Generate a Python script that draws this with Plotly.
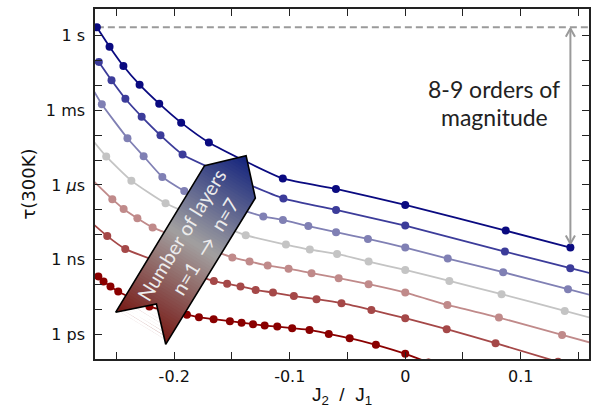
import numpy as np
import plotly.graph_objects as go

# ---------------- data (x = J2/J1, values = log10(tau / s)) ----------------
x_n7 = [-0.267, -0.256, -0.244, -0.230, -0.213, -0.194, -0.170, -0.106, -0.060, 0.000, 0.087, 0.143]
lt_n7 = [0.338, -0.442, -1.218, -1.969, -2.733, -3.497, -4.293, -5.740, -6.162, -6.804, -7.838, -8.521]

x_n6 = [-0.2653, -0.2543, -0.2423, -0.2282, -0.2119, -0.1928, -0.1055, -0.0599, 0.0, 0.0863, 0.1429, 0.1668]
lt_n6 = [-1.057, -1.793, -2.536, -3.256, -4.007, -4.775, -6.543, -7.006, -7.637, -8.682, -9.349, -9.630]

x_n5 = [-0.2733, -0.2627, -0.2405, -0.2265, -0.2103, -0.1913, -0.1229, -0.1059, -0.0839, -0.0599, -0.0323,
        0.0, 0.0368, 0.0848, 0.1409, 0.1668]
lt_n5 = [-1.933, -2.757, -4.124, -4.847, -5.679, -6.242, -7.267, -7.408, -7.657, -7.902, -8.171,
         -8.521, -8.963, -9.510, -10.193, -10.506]

x_n4 = [-0.2733, -0.2589, -0.2371, -0.2075, -0.1381, -0.1033, -0.0826, -0.0590, -0.0317, 0.0, 0.0382,
        0.0834, 0.1381, 0.1668]
lt_n4 = [-4.051, -4.855, -5.828, -6.736, -8.023, -8.400, -8.601, -8.774, -9.084, -9.417, -9.859,
         -10.394, -11.065, -11.419]

x_n3 = [-0.2733, -0.2536, -0.2438, -0.2319, -0.2187, -0.1497, -0.1348, -0.1191, -0.1010, -0.0811, -0.0576,
        -0.0317, 0.0, 0.0365, 0.0811, 0.1358, 0.1668]
lt_n3 = [-5.687, -6.572, -6.965, -7.339, -7.709, -8.915, -9.076, -9.244, -9.369, -9.550, -9.751,
         -9.992, -10.330, -10.824, -11.334, -12.030, -12.424]

x_n2 = [-0.2733, -0.2580, -0.2424, -0.1657, -0.1542, -0.1426, -0.1295, -0.1145, -0.0964, -0.0768, -0.0552,
        -0.0293, 0.0, 0.0359, 0.0782, 0.1323]
lt_n2 = [-7.448, -8.059, -8.573, -9.867, -9.972, -10.080, -10.221, -10.330, -10.470, -10.595, -10.756,
         -11.025, -11.358, -11.801, -12.363, -13.115]

x_n1 = [-0.2657, -0.2612, -0.2552, -0.2485, -0.2215, -0.1890, -0.1786, -0.1659, -0.1518, -0.1417, -0.1318,
        -0.1217, -0.1108, -0.0979, -0.0829, -0.0662, -0.0481, -0.0254, 0.0, 0.0201]
lt_n1 = [-9.678, -9.879, -10.080, -10.289, -10.892, -11.218, -11.318, -11.399, -11.479, -11.539, -11.600,
         -11.656, -11.696, -11.760, -11.829, -11.990, -12.162, -12.432, -12.793, -13.139]

series_names = ["n=1", "n=2", "n=3", "n=4", "n=5", "n=6", "n=7"]
series_x = [x_n1, x_n2, x_n3, x_n4, x_n5, x_n6, x_n7]
series_lt = [lt_n1, lt_n2, lt_n3, lt_n4, lt_n5, lt_n6, lt_n7]
series_colors = ["#8a0000", "#a54848", "#c08a8a", "#c4c4c4", "#8080b4", "#3c3c9a", "#0a0a80"]

x_tickvals = [-0.2, -0.1, 0.0, 0.1]
x_ticktext = ["-0.2", "-0.1", "0", "0.1"]
x_minorvals = [-0.25, -0.15, -0.05, 0.05, 0.15]
y_label_exp = [0, -3, -6, -9, -12]
y_ticktext = ["1 s", "1 ms", "1 <i>\u03bc</i>s", "1 ns", "1 ps"]
y_minor_exp = [-1, -2, -4, -5, -7, -8, -10, -11]

# ---------------- layout geometry ----------------
W, H = 591, 411
ML, MR, MT, MB = 95, 0, 9, 52
XR = [-0.2686, 0.1591]
YR = [-13.0, 1.073]
PW, PH = W - ML - MR, H - MT - MB
DX_PX = (XR[1] - XR[0]) / PW   # data units per pixel (x)
DY_PX = (YR[1] - YR[0]) / PH   # decades per pixel (y)


def px2x(px):
    return XR[0] + (px - ML) * DX_PX


def py2lt(py):
    return YR[1] - (py - MT) * DY_PX


fig = go.Figure()

# dashed reference line at the n=7 starting value
fig.add_trace(go.Scatter(x=[x_n7[0], XR[1] + 0.02], y=[10 ** lt_n7[0]] * 2, mode="lines",
                         line=dict(color="#9a9a9a", width=2, dash="7px,4px"),
                         hoverinfo="skip", showlegend=False))

for name, xs, lts, col in zip(series_names, series_x, series_lt, series_colors):
    fig.add_trace(go.Scatter(
        x=xs, y=[10 ** v for v in lts], mode="lines+markers", name=name,
        line=dict(color=col, width=1.8, shape="spline", smoothing=0.5),
        marker=dict(color=col, size=8, line=dict(width=0)),
        showlegend=False))

# ---------------- double-headed gray arrow (span of n=7) ----------------
xa = x_n7[-1]
top_tip = lt_n7[0] - 1.2 * DY_PX
bot_tip = lt_n7[-1] + 3.8 * DY_PX
hx, hy = 4.6 * DX_PX, 8.3 * DY_PX
ax_x = [xa, xa, None, xa - hx, xa, xa + hx, None, xa - hx, xa, xa + hx]
ax_y = [top_tip, bot_tip, None, top_tip - hy, top_tip, top_tip - hy, None, bot_tip + hy, bot_tip, bot_tip + hy]
fig.add_trace(go.Scatter(x=ax_x, y=[None if v is None else 10 ** v for v in ax_y], mode="lines",
                         line=dict(color="#9a9a9a", width=2), hoverinfo="skip", showlegend=False))

# ---------------- ribbon arrow with diagonal gradient ----------------
rib = [(115.7, 312.3), (205.0, 165.7), (246.7, 155.7), (256.0, 198.0), (166.0, 344.3), (156.7, 304.0)]
u = np.array([0.522, -0.853])
u = u / np.linalg.norm(u)


def clip(poly, s, keep_ge):
    out = []
    n = len(poly)
    for i in range(n):
        P = poly[i]
        Q = poly[(i + 1) % n]
        dp = P[0] * u[0] + P[1] * u[1] - s
        dq = Q[0] * u[0] + Q[1] * u[1] - s
        if not keep_ge:
            dp, dq = -dp, -dq
        if dp >= 0:
            out.append(P)
        if (dp >= 0) != (dq >= 0):
            t = dp / (dp - dq)
            out.append((P[0] + t * (Q[0] - P[0]), P[1] + t * (Q[1] - P[1])))
    return out


stops = [(0.0, (118, 22, 18)), (0.5, (162, 160, 160)), (1.0, (18, 34, 124))]


def grad(t):
    for (t0, c0), (t1, c1) in zip(stops[:-1], stops[1:]):
        if t <= t1:
            f = (t - t0) / (t1 - t0)
            return "rgb(%d,%d,%d)" % tuple(round(a + f * (b - a)) for a, b in zip(c0, c1))
    return "rgb(%d,%d,%d)" % stops[-1][1]


proj = [p[0] * u[0] + p[1] * u[1] for p in rib]
smin, smax = min(proj), max(proj)
N = 70
ds = (smax - smin) / N
for k in range(N):
    s0 = smin + k * ds
    s1 = s0 + ds + 0.9
    poly = clip(clip(rib, s0, True), s1, False)
    if len(poly) < 3:
        continue
    col = grad((k + 0.5) / N)
    fig.add_trace(go.Scatter(
        x=[px2x(p[0]) for p in poly] + [px2x(poly[0][0])],
        y=[10 ** py2lt(p[1]) for p in poly] + [10 ** py2lt(poly[0][1])],
        mode="lines", fill="toself", fillcolor=col, line=dict(width=0, color=col),
        hoverinfo="skip", showlegend=False))

fig.add_trace(go.Scatter(
    x=[px2x(p[0]) for p in rib] + [px2x(rib[0][0])],
    y=[10 ** py2lt(p[1]) for p in rib] + [10 ** py2lt(rib[0][1])],
    mode="lines", line=dict(color="#000000", width=1.6), hoverinfo="skip", showlegend=False))

rib_font = dict(family="Lato", size=20, color="#ececec")
fig.add_annotation(x=px2x(181.2), y=py2lt(234.6), xref="x", yref="y", text="Number of layers",
                   xanchor="center", yanchor="middle",
                   showarrow=False, textangle=-58.5, font=rib_font)
fig.add_annotation(x=px2x(205.3), y=py2lt(245.9), xref="x", yref="y", text="n=1  \u2192  n=7",
                   xanchor="center", yanchor="middle",
                   showarrow=False, textangle=-58.5, font=rib_font)

# ---------------- magnitude text ----------------
txt_font = dict(family="Lato", size=23, color="#222222")
fig.add_annotation(x=(496 - ML) / PW, y=(H - MB - 89) / PH, xref="paper", yref="paper",
                   xanchor="center", yanchor="middle",
                   text="8-9 orders of", showarrow=False, font=txt_font)
fig.add_annotation(x=(496 - ML) / PW, y=(H - MB - 116.5) / PH, xref="paper", yref="paper",
                   xanchor="center", yanchor="middle",
                   text="magnitude", showarrow=False, font=txt_font)

axis_font = dict(family="DejaVu Sans", size=16, color="#111111")
tick_common = dict(ticks="inside", ticklen=7, tickwidth=1.2, tickcolor="#222222")
fig.update_xaxes(range=XR, showline=True, linecolor="#222222", linewidth=1.5, mirror="ticks",
                 tickmode="array", tickvals=x_tickvals, ticktext=x_ticktext, **tick_common,
                 minor=dict(tickmode="array", tickvals=x_minorvals, **tick_common),
                 tickfont=axis_font, ticklabelstandoff=2, showgrid=False, zeroline=False,
                 title=dict(text="J<sub>2</sub>\u00a0 / \u00a0J<sub>1</sub>",
                            font=dict(family="Liberation Sans", size=19, color="#111111"), standoff=3))
fig.update_yaxes(type="log", range=YR, showline=True, linecolor="#222222", linewidth=1.5, mirror="ticks",
                 tickmode="array", tickvals=[10.0 ** e for e in y_label_exp], ticktext=y_ticktext,
                 **tick_common,
                 minor=dict(tickmode="array", tickvals=[10.0 ** e for e in y_minor_exp], **tick_common),
                 tickfont=axis_font, ticklabelstandoff=5, showgrid=False, zeroline=False,
                 title=dict(text="\u03c4(300K)", font=dict(family="DejaVu Sans", size=18, color="#111111"),
                            standoff=6))
fig.update_layout(width=W, height=H, margin=dict(l=ML, r=MR, t=MT, b=MB),
                  paper_bgcolor="white", plot_bgcolor="white", showlegend=False)
fig.write_html("out.html", config={"displayModeBar": False},
               post_script="document.body.style.margin='0';")
